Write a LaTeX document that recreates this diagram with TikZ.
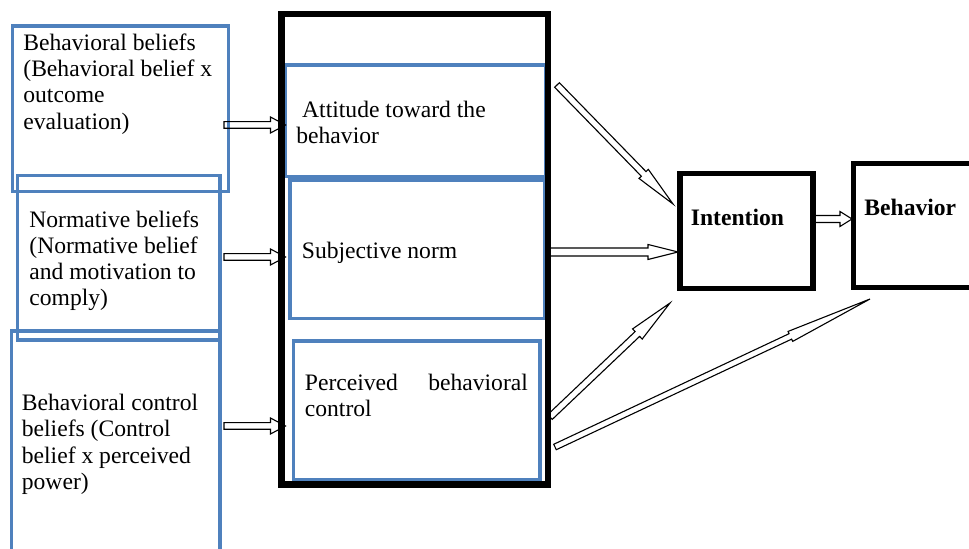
\documentclass[tikz,border=0pt]{standalone}
\usepackage{fontspec}
\setmainfont{Liberation Serif}
\usetikzlibrary{calc,fit}
\definecolor{boxblue}{RGB}{79,129,189}
\tikzset{
  arrw/.store in=\arrw, arrw=1.65pt,
  arrhw/.store in=\arrhw, arrhw=4pt,
  arrhl/.store in=\arrhl, arrhl=7.5pt,
  hollow/.style={draw, line width=0.55pt, to path={
    ($(\tikztostart)!\arrw!90:(\tikztotarget)$)
    -- ($($(\tikztotarget)!\arrhl!(\tikztostart)$)!\arrw!90:(\tikztotarget)$)
    -- ($($(\tikztotarget)!\arrhl!(\tikztostart)$)!\arrhw!90:(\tikztotarget)$)
    -- (\tikztotarget)
    -- ($($(\tikztotarget)!\arrhl!(\tikztostart)$)!\arrhw!-90:(\tikztotarget)$)
    -- ($($(\tikztotarget)!\arrhl!(\tikztostart)$)!\arrw!-90:(\tikztotarget)$)
    -- ($(\tikztostart)!\arrw!-90:(\tikztotarget)$) -- cycle}},
  bluebox/.style={draw=boxblue, line width=1.6pt, inner sep=0pt, outer sep=0pt},
  blackbox/.style={draw=black, line width=2.8pt, inner sep=0pt, outer sep=0pt},
  txt/.style={anchor=north west, inner sep=0pt, align=left,
    font=\fontsize{11.8}{13.1}\selectfont},
  boldtxt/.style={txt, font=\fontsize{11.8}{13.1}\selectfont\bfseries}
}
\begin{document}
\begin{tikzpicture}[x=0.5pt,y=-0.5pt]
  \useasboundingbox (0,0) rectangle (969,549);
  \clip (0,0) rectangle (969,549);
  \node[bluebox, fit={(12.7,26) (228.3,191.7)}] (bb) {};
  \node[bluebox, fit={(17.7,175.7) (220,340)}] (nb) {};
  \node[bluebox, fit={(11.7,331) (220,570)}] (cb) {};
  \node[bluebox, fit={(285.5,65) (546,176.7)}] (att) {};
  \node[bluebox, fit={(290,180) (545,318.3)}] (sn) {};
  \node[bluebox, fit={(293.7,341) (540,479.3)}] (pbc) {};
  \node[blackbox, line width=3.2pt, fit={(281.5,14.3) (548,484.7)}] (frame) {};
  \node[blackbox, fit={(680,173.5) (813,288.5)}] (int) {};
  \node[blackbox, fit={(853.5,163.5) (980,287.5)}] (beh) {};

  \node[txt] (bb-t) at (23,33.4) {Behavioral beliefs\\(Behavioral belief x\\outcome\\evaluation)};
  \node[txt] (nb-t) at (29,210) {Normative beliefs\\(Normative belief\\and motivation to\\comply)};
  \node[txt] (cb-t) at (21.5,394) {Behavioral control\\beliefs (Control\\belief x perceived\\power)};
  \node[txt] (att-t) at (296,100.6) {\hspace*{2.9pt}Attitude toward the\\behavior};
  \node[txt] (sn-t) at (301.5,242) {Subjective norm};
  \node[txt] (pbc-t) at (304.5,374) {\makebox[111.5pt][s]{Perceived behavioral}\\control};
  \node[boldtxt] (int-t) at (690.5,209) {Intention};
  \node[boldtxt] (beh-t) at (864,199) {Behavior};

  \foreach \n/\y in {1/125,2/257,3/426} {
    \coordinate (in\n) at (224,\y); \coordinate (to\n) at (285.5,\y);
    \draw[hollow] (in\n) to (to\n);
  }
  \coordinate (att-o) at (557,85); \coordinate (int-a) at (673,204);
  \coordinate (sn-o) at (548,252); \coordinate (int-s) at (678,252);
  \coordinate (pbc-o) at (550,417); \coordinate (int-p) at (670,303);
  \coordinate (pbc-b) at (555,447); \coordinate (beh-p) at (870,299);
  \coordinate (int-o) at (813,219); \coordinate (beh-i) at (852,219);
  \draw[hollow, arrhw=3.25pt, arrhl=21pt] (att-o) to (int-a);
  \draw[hollow, arrw=2pt, arrhw=3.75pt, arrhl=15pt] (sn-o) to (int-s);
  \draw[hollow, arrhw=3.5pt, arrhl=22.5pt] (pbc-o) to (int-p);
  \draw[hollow, arrw=1.5pt, arrhw=2.75pt, arrhl=44pt] (pbc-b) to (beh-p);
  \draw[hollow, arrw=1.75pt, arrhw=3.75pt, arrhl=6pt] (int-o) to (beh-i);
\end{tikzpicture}
\end{document}
